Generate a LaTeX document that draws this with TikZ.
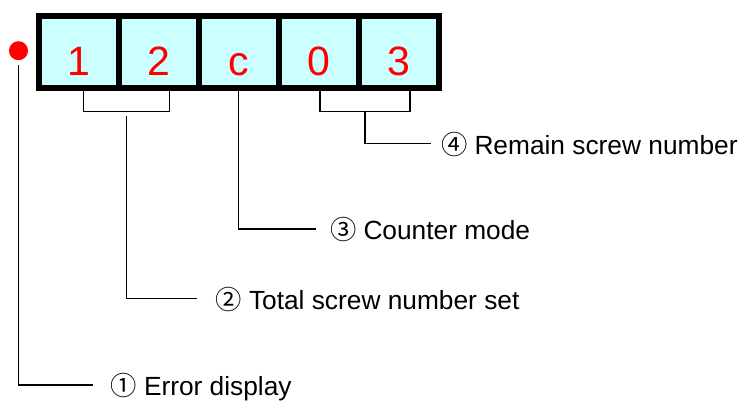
\documentclass[tikz,border=0pt]{standalone}
\usepackage{fontspec}
\setmainfont{Liberation Sans}
\newfontfamily\circfont{Noto Sans CJK SC}
\definecolor{cellfill}{HTML}{CCFFFF}
\definecolor{digitred}{HTML}{FF0000}
\begin{document}
\begin{tikzpicture}[x=1pt,y=-1pt,
  cell/.style={draw=black,line width=5.7pt,fill=cellfill,minimum width=80pt,minimum height=71.6pt,inner sep=0pt},
  digit/.style={text=digitred,font=\fontsize{41}{41}\selectfont,inner sep=0pt,anchor=base},
  lab/.style={font=\fontsize{26.3}{26.3}\selectfont,inner sep=0pt,anchor=base west},
  conn/.style={line width=1.4pt,draw=black},
  brk/.style={line width=1.4pt,draw=black}]
\useasboundingbox (0,0) rectangle (746,402);
% cells
\node[cell] (c1) at (78.7,52) {};
\node[cell] (c2) at (158.7,52) {};
\node[cell] (c3) at (238.7,52) {};
\node[cell] (c4) at (318.7,52) {};
\node[cell] (c5) at (398.7,52) {};
\node[digit] (d1) at (78.7,75) {1};
\node[digit] (d2) at (158.7,75) {2};
\node[digit] (d3) at (238.7,75) {c};
\node[digit] (d4) at (318.7,75) {0};
\node[digit] (d5) at (398.7,75) {3};
% red dot
\node[circle,fill=digitred,minimum size=19pt,inner sep=0pt] (dot) at (18.5,50.7) {};
% brackets
\coordinate (b1a) at (83.3,90.5);
\coordinate (b1b) at (169.3,90.5);
\coordinate (b1m) at (126.3,116);
\draw[brk] (b1a) |- (126.3,111.7) -| (b1b);
\coordinate (b2a) at (320,90.5);
\coordinate (b2b) at (410,90.5);
\coordinate (b2m) at (365,111.7);
\draw[brk] (b2a) |- (b2m) -| (b2b);
% labels
\node[lab] (l4) at (441,154) {{\circfont ④}\hspace{7pt}Remain screw number};
\node[lab] (l3) at (330,239.3) {{\circfont ③}\hspace{7pt}Counter mode};
\node[lab] (l2) at (215.5,309.2) {{\circfont ②}\hspace{7pt}Total screw number set};
\node[lab] (l1) at (110.5,395.5) {{\circfont ①}\hspace{7pt}Error display};
% connectors
\draw[conn] (b2m) |- ([xshift=-10pt,yshift=10.5pt]l4.base west);
\draw[conn] (c3.south) |- ([xshift=-14pt,yshift=10.5pt]l3.base west);
\draw[conn] (b1m) |- ([xshift=-18.5pt,yshift=10.5pt]l2.base west);
\draw[conn] ([yshift=-5pt]dot.south) |- ([xshift=-17.5pt,yshift=10.5pt]l1.base west);
\end{tikzpicture}
\end{document}
